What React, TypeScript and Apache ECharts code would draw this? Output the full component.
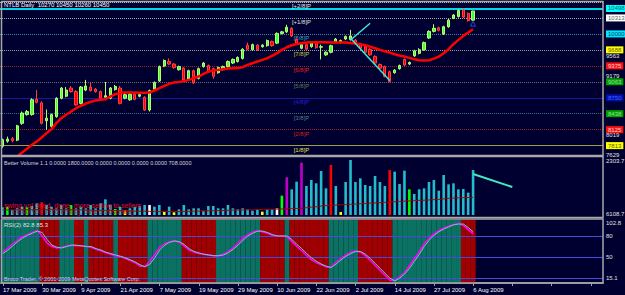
import React, { useEffect, useRef } from 'react';
import * as echarts from 'echarts';

const dates = [
  '17 Mar 2009','18 Mar 2009','19 Mar 2009','23 Mar 2009','24 Mar 2009','25 Mar 2009','26 Mar 2009','27 Mar 2009','30 Mar 2009','31 Mar 2009',
  '1 Apr 2009','2 Apr 2009','3 Apr 2009','6 Apr 2009','7 Apr 2009','8 Apr 2009','9 Apr 2009','10 Apr 2009','13 Apr 2009','14 Apr 2009',
  '15 Apr 2009','16 Apr 2009','17 Apr 2009','20 Apr 2009','21 Apr 2009','22 Apr 2009','23 Apr 2009','24 Apr 2009','27 Apr 2009','28 Apr 2009',
  '30 Apr 2009','1 May 2009','7 May 2009','8 May 2009','11 May 2009','12 May 2009','13 May 2009','14 May 2009','15 May 2009','18 May 2009',
  '19 May 2009','20 May 2009','21 May 2009','22 May 2009','25 May 2009','26 May 2009','27 May 2009','28 May 2009','29 May 2009','1 Jun 2009',
  '2 Jun 2009','3 Jun 2009','4 Jun 2009','5 Jun 2009','8 Jun 2009','9 Jun 2009','10 Jun 2009','11 Jun 2009','12 Jun 2009','15 Jun 2009',
  '16 Jun 2009','17 Jun 2009','18 Jun 2009','19 Jun 2009','22 Jun 2009','23 Jun 2009','24 Jun 2009','25 Jun 2009','26 Jun 2009','29 Jun 2009',
  '30 Jun 2009','1 Jul 2009','2 Jul 2009','3 Jul 2009','6 Jul 2009','7 Jul 2009','8 Jul 2009','9 Jul 2009','10 Jul 2009','13 Jul 2009',
  '14 Jul 2009','15 Jul 2009','16 Jul 2009','17 Jul 2009','21 Jul 2009','22 Jul 2009','23 Jul 2009','24 Jul 2009','27 Jul 2009','28 Jul 2009',
  '29 Jul 2009','30 Jul 2009','31 Jul 2009','3 Aug 2009','4 Aug 2009','5 Aug 2009','6 Aug 2009'
];
const SLOTS = 123;
const categories = dates.concat(new Array(SLOTS - dates.length).fill(''));

const opens = [7800,7900,7950,7920,8250,8420,8420,8720,8650,8300,8190,8380,8740,8780,8940,8870,8640,8900,8960,8920,8870,8760,8740,8910,8940,8740,8710,8820,8780,8760,8510,8920,9080,9370,9460,9410,9300,9330,9100,9280,9130,9360,9380,9320,9240,9300,9360,9430,9460,9520,9780,9690,9780,9750,9770,9850,9820,10010,10040,10110,9890,9720,9790,9750,9820,9740,9590,9640,9850,9830,9900,9890,9880,9790,9750,9700,9560,9400,9360,9260,9240,9320,9500,9410,9570,9620,9690,9920,10050,10120,10000,10140,10310,10340,10470,10400,10270];
const closes = [7930,7940,7910,8200,8450,8480,8710,8660,8250,8350,8420,8740,8940,8900,8870,8610,8960,8980,8890,8870,8740,8790,8940,8970,8640,8810,8820,8720,8810,8510,8890,9050,9360,9480,9410,9340,9360,9100,9280,9040,9320,9430,9260,9170,9340,9360,9460,9500,9540,9700,9700,9790,9690,9780,9870,9770,10010,10040,10130,9960,9820,9790,9700,9830,9730,9750,9640,9770,9900,9870,9950,9960,9820,9720,9640,9590,9430,9330,9170,9070,9290,9380,9390,9440,9670,9690,9830,10050,10110,10070,10140,10270,10370,10460,10330,10260,10450];
const lows = [7770,7870,7880,7900,8220,8400,8400,8640,8230,8120,8140,8360,8720,8760,8850,8590,8620,8880,8870,8850,8720,8740,8720,8890,8620,8720,8690,8700,8760,8490,8480,8900,9060,9350,9390,9320,9280,9080,9080,9020,9110,9340,9240,9120,9220,9280,9340,9410,9440,9500,9680,9670,9670,9730,9750,9750,9800,9990,10020,9940,9800,9700,9680,9730,9710,9500,9570,9620,9830,9810,9880,9870,9800,9700,9620,9570,9410,9310,9150,9050,9220,9300,9370,9390,9550,9600,9670,9900,10030,10050,9980,10120,10290,10320,10310,10240,10260];
const highs = [7950,7990,7980,8220,8480,8510,8740,8900,8680,8520,8440,8760,8960,8960,8980,8900,8980,9100,9050,8940,8890,9060,8960,9000,8980,8840,8850,8850,8830,8780,8910,9070,9380,9500,9520,9430,9380,9350,9300,9300,9340,9450,9400,9340,9360,9380,9480,9520,9560,9720,9830,9810,9800,9800,9890,9870,10030,10060,10180,10130,9910,9810,9810,9850,9840,9790,9660,9790,9920,9890,9970,10080,9900,9810,9770,9720,9580,9420,9380,9280,9310,9400,9520,9460,9690,9720,9850,10070,10190,10140,10160,10290,10390,10480,10490,10420,10450];

const maValues: (number | string)[] = ['-','-','-',7601,7679,7751,7829,7894,7972,8057,8135,8253,8350,8416,8481,8546,8592,8637,8670,8696,8709,8722,8774,8820,8846,8852,8854,8852,8850,8850,8852,8892,8937,8983,9022,9048,9061,9074,9100,9133,9165,9218,9263,9283,9296,9309,9322,9328,9330,9348,9394,9426,9459,9491,9524,9570,9622,9687,9739,9778,9804,9817,9830,9835,9836,9836,9835,9834,9833,9832,9830,9824,9811,9798,9778,9752,9720,9687,9661,9635,9602,9576,9557,9531,9504,9485,9478,9485,9517,9557,9622,9700,9798,9883,9961,10026,10091];

const volumes = [305,331,199,265,331,305,357,463,503,397,331,265,397,265,397,265,331,265,397,265,463,622,397,238,331,199,265,331,357,397,397,331,397,132,331,106,225,397,225,265,265,172,357,357,265,265,397,265,225,265,225,172,225,132,225,225,265,768,1496,1019,1324,2079,1152,1390,1258,1748,1059,1986,1152,119,1311,2185,1311,1456,1192,1152,1549,1311,1152,1787,1721,1231,1761,1019,834,1019,1059,1311,1390,966,1589,1218,1258,1019,1033,887,1787];
const volumeKinds = 'cgcccgccrc ccccgccccc cccgcycccc wccycycccc cccccccccc cccyccwgmc cmcccccrcy cccccccccr cccgcccccc ccccccc'.replace(/ /g, '');
const volumeMA = [200,200,205,205,210,210,210,215,220,220,220,215,215,210,210,205,200,200,195,190,190,185,180,175,170,165,160,155,150,150,145,145,140,140,140,140,140,145,145,150,155,160,165,170,175,180,185,190,195,200,205,210,215,220,225,230,235,240,245,250,258,265,290,310,330,357,370,385,395,405,415,424,435,450,460,470,480,490,503,515,525,540,550,560,570,580,588,596,610,620,640,662,670,680,690,696,702];

const rsiMain = [57,63,69,74,79,82,85,88,80,70,65,63,64,66,67,66,66,65,64,61,59,56,54,52,51,48,45,42,37,37,44,54,64,69,72,73,71,66,60,57,55,54,53,52,52,54,58,63,70,77,82,86,87,86,84,81,80,80,79,72,65,59,52,46,42,39,36,36,43,48,53,57,59,57,52,45,38,31,24,17,17,22,28,38,48,58,69,77,83,88,91,94,96,98,95,89,83];
const rsiSignal = [55,60,66,72,77,81,84,87,85,75,67,64,63,65,67,67,66,65,65,62,60,57,55,53,51,49,46,43,39,36,40,49,60,67,71,73,72,68,62,58,56,54,53,52,52,53,56,61,67,74,80,84,87,87,85,82,80,80,80,75,68,62,55,49,44,40,37,35,40,46,51,55,58,58,54,48,41,34,27,20,16,20,26,34,44,54,65,74,81,86,90,93,96,97,97,92,86];
const rsiZones = 'TTTTTTTTRR RRTTTRRTRR RRRTRRRRRR TTTTTTTRRR RRRRTTTTTT TTTRRRRRTR RRRRRRRTTT TTTRRRRRRR TTTTTTTTTT TTTTRRR'.replace(/ /g, '');

const murreyValues = [10625, 10313, 10000, 9688, 9375, 9063, 8750, 8438, 8125, 7813];
const murreyNames = ['[+2/8]P', '[+1/8]P', '[8/8]P', '[7/8]P', '[6/8]P', '[5/8]P', '[4/8]P', '[3/8]P', '[2/8]P', '[1/8]P'];
const bidPrice = 10498;
const priceTicks = [9563, 9179, 8019, 7629];
const rsiLevels = [80, 50, 20];
const upTrend = [[71, 9880], [75, 10209]];
const downTrend = [[71, 9915], [79, 9087]];
const volTrend = [[96, 1628], [104, 1110]];

const FONT = 'Liberation Sans';
const BG = '#000030';

const murreyLine = ['#b8b8b8', '#a8a8a8', '#2a8fa0', '#9a9a9a', '#a02020', '#6a6a6a', '#1818a0', '#2f6f78', '#a82020', '#a0a040'];
const murreyLineType: any[] = ['dotted', 'dotted', 'dotted', 'dotted', 'dotted', 'dotted', 'solid', 'dotted', 'dotted', 'solid'];
const murreyText = ['#e8e8e8', '#e0e0e0', '#30a8c0', '#c8c840', '#e02020', '#508050', '#2020d0', '#508080', '#d02020', '#e0e040'];
const boxBg = ['', '#ffffff', '#00e8ff', '#ffff00', '#ff1010', '#00a000', '#0010b0', '#00a000', '#ff1010', '#ffff00'];
const boxFg = ['', '#606060', '#004060', '#606000', '#ffd0d0', '#90e090', '#4060ff', '#90e090', '#ffd0d0', '#606000'];

const volColor: Record<string, string> = { c: '#22bccc', r: '#ff0000', m: '#c000c8', g: '#00ff00', y: '#ffff00', w: '#ffffff' };

function buildOption() {
  const mlData: any[] = [];
  murreyValues.forEach((v, i) => {
    mlData.push({
      yAxis: v,
      lineStyle: { color: murreyLine[i], type: murreyLineType[i], width: 1 },
      label: { show: true, position: 'insideMiddleBottom', distance: 1, formatter: murreyNames[i], color: murreyText[i], fontSize: 6, fontFamily: FONT },
    });
    if (boxBg[i]) {
      mlData.push({
        yAxis: v,
        lineStyle: { color: murreyLine[i], type: murreyLineType[i], width: 1 },
        label: { show: true, position: 'end', distance: 3, formatter: String(v), backgroundColor: boxBg[i], color: boxFg[i], fontSize: 6, fontFamily: FONT, padding: [1, 2, 0, 2] },
      });
    }
  });
  mlData.push({
    yAxis: bidPrice,
    lineStyle: { color: '#00d8e8', type: 'solid', width: 2 },
    label: { show: true, position: 'end', distance: 3, formatter: String(bidPrice), backgroundColor: '#00ffff', color: '#006070', fontSize: 6, fontFamily: FONT, padding: [1, 2, 0, 2] },
  });
  priceTicks.forEach((v) => {
    mlData.push({
      yAxis: v,
      lineStyle: { color: 'rgba(0,0,0,0)', width: 0 },
      label: { show: true, position: 'end', distance: 3, formatter: String(v), color: '#e0e0e0', fontSize: 6, fontFamily: FONT },
    });
  });

  const candleData = opens.map((o, i) => [o, closes[i], lows[i], highs[i]]);

  const volData = volumes.map((v, i) => ({ value: v, itemStyle: { color: volColor[volumeKinds[i]] || volColor.c } }));
  const zoneData = rsiZones.split('').map((z) => ({ value: 102.8, itemStyle: { color: z === 'T' ? '#0b7262' : '#a00000' } }));

  const rsiML: any[] = rsiLevels.map((v) => ({
    yAxis: v,
    lineStyle: { color: '#4848e0', type: 'solid', width: 1 },
    label: { show: v !== 20, position: 'end', distance: 3, formatter: String(v), color: '#e0e0e0', fontSize: 6, fontFamily: FONT },
  }));
  rsiML.push({ yAxis: 102.8, lineStyle: { color: 'rgba(0,0,0,0)', width: 0 }, label: { show: true, position: 'end', distance: 3, offset: [0, 3], formatter: '102.8', color: '#e0e0e0', fontSize: 6, fontFamily: FONT } });
  rsiML.push({ yAxis: 20, lineStyle: { color: 'rgba(0,0,0,0)', width: 0 }, label: { show: true, position: 'end', distance: 3, formatter: '15.1', color: '#e0e0e0', fontSize: 6, fontFamily: FONT } });

  const volML: any[] = [
    { yAxis: 2303.7, lineStyle: { color: 'rgba(0,0,0,0)', width: 0 }, label: { show: true, position: 'end', distance: 3, offset: [0, 4], formatter: '2303.7', color: '#e0e0e0', fontSize: 6, fontFamily: FONT } },
    { yAxis: 0, lineStyle: { color: 'rgba(0,0,0,0)', width: 0 }, label: { show: true, position: 'end', distance: 3, offset: [0, -1], formatter: '6108.7', color: '#e0e0e0', fontSize: 6, fontFamily: FONT } },
  ];

  const hiddenX = (gi: number) => ({ type: 'category', gridIndex: gi, data: categories, boundaryGap: true, show: false });

  return {
    animation: false,
    backgroundColor: BG,
    textStyle: { fontFamily: FONT },
    grid: [
      { left: 0, top: 2, width: 603, height: 153 },
      { left: 0, top: 157, width: 603, height: 58 },
      { left: 0, top: 220, width: 603, height: 63 },
    ],
    xAxis: [
      hiddenX(0),
      hiddenX(1),
      {
        type: 'category', gridIndex: 2, data: categories, boundaryGap: true,
        axisLine: { show: true, lineStyle: { color: '#a0a0a0', width: 1.5 } },
        axisTick: { show: true, interval: 7, alignWithLabel: true, length: 3, lineStyle: { color: '#a0a0a0' } },
        axisLabel: { show: true, interval: 7, align: 'left', color: '#ffffff', fontSize: 6, fontFamily: FONT, margin: 4 },
        splitLine: { show: false },
      },
    ],
    yAxis: [
      { type: 'value', gridIndex: 0, min: 7629, max: 10625, show: false, splitLine: { show: false } },
      { type: 'value', gridIndex: 1, min: 0, max: 2303.7, show: false, splitLine: { show: false } },
      { type: 'value', gridIndex: 2, min: 13.1, max: 102.8, show: false, splitLine: { show: false } },
    ],
    graphic: [
      { type: 'rect', shape: { x: 1.5, y: 1.5, width: 601.5, height: 154 }, style: { fill: 'none', stroke: '#a8a8a8', lineWidth: 1.5 }, z: 100, silent: true },
      { type: 'rect', shape: { x: 1.5, y: 156.5, width: 601.5, height: 61 }, style: { fill: 'none', stroke: '#a8a8a8', lineWidth: 1.5 }, z: 100, silent: true },
      { type: 'rect', shape: { x: 1.5, y: 219, width: 601.5, height: 64 }, style: { fill: 'none', stroke: '#a8a8a8', lineWidth: 1.5 }, z: 100, silent: true },
      { type: 'text', left: 4, top: 2, style: { text: 'NTLB Daily  10270 10450 10260 10450', fill: '#ffffff', font: `6px "${FONT}"` }, z: 110 },
      { type: 'text', left: 4, top: 160, style: { text: 'Better Volume 1.1 0.0000 1800.0000 0.0000 0.0000 0.0000 0.0000 708.0000', fill: '#d8d8d8', font: `5.5px "${FONT}"` }, z: 110 },
      { type: 'text', left: 4, top: 202, style: { text: 'swing vol dried, done, more selling to sellers', fill: '#e01010', font: `7px "${FONT}"` }, z: 110 },
      { type: 'text', left: 12, top: 208, style: { text: 'climax vol, trend ending, buyers absorbing', fill: '#a01010', font: `6.5px "${FONT}"` }, z: 110 },
      { type: 'text', left: 4, top: 222, style: { text: 'RSI(2) 82.8 85.3', fill: '#e0e0e0', font: `6px "${FONT}"` }, z: 110 },
      { type: 'text', left: 4, top: 276, style: { text: 'Broco Trader, © 2001-2009 MetaQuotes Software Corp.', fill: '#d0d0d0', font: `5.5px "${FONT}"` }, z: 110 },
    ],
    series: [
      {
        type: 'candlestick', xAxisIndex: 0, yAxisIndex: 0, data: candleData, barWidth: 2.8,
        itemStyle: { color: '#40ff40', color0: '#ff0000', borderColor: '#b8ff70', borderColor0: '#ff4040', borderWidth: 1 },
        markLine: { silent: true, symbol: ['none', 'none'], data: mlData, z: 1 },
        z: 3,
      },
      { type: 'line', xAxisIndex: 0, yAxisIndex: 0, data: maValues, showSymbol: false, lineStyle: { color: '#ff0000', width: 2.5 }, z: 4 },
      { type: 'line', xAxisIndex: 0, yAxisIndex: 0, data: upTrend, showSymbol: false, lineStyle: { color: '#40e8d0', width: 1.5 }, z: 5 },
      { type: 'line', xAxisIndex: 0, yAxisIndex: 0, data: downTrend, showSymbol: false, lineStyle: { color: '#40e8d0', width: 1.5 }, z: 5 },
      { type: 'scatter', xAxisIndex: 0, yAxisIndex: 0, data: [[96, 10200]], symbol: 'triangle', symbolSize: 5, itemStyle: { color: 'rgba(0,0,0,0)', borderColor: '#3050ff', borderWidth: 1 }, z: 6 },
      {
        type: 'bar', xAxisIndex: 1, yAxisIndex: 1, data: volData, barWidth: 2.6,
        markLine: { silent: true, symbol: ['none', 'none'], data: volML },
      },
      { type: 'line', xAxisIndex: 1, yAxisIndex: 1, data: volumeMA, showSymbol: false, lineStyle: { color: '#a00000', width: 1 }, z: 4 },
      { type: 'line', xAxisIndex: 1, yAxisIndex: 1, data: volTrend, showSymbol: false, lineStyle: { color: '#40e8c0', width: 2 }, z: 5 },
      { type: 'bar', xAxisIndex: 2, yAxisIndex: 2, data: zoneData, barWidth: '100%', barCategoryGap: '0%', silent: true, z: 1,
        markLine: { silent: true, symbol: ['none', 'none'], data: rsiML, z: 2 } },
      { type: 'line', xAxisIndex: 2, yAxisIndex: 2, data: rsiMain, showSymbol: false, lineStyle: { color: '#ff00ff', width: 1.5 }, z: 4 },
      { type: 'line', xAxisIndex: 2, yAxisIndex: 2, data: rsiSignal, showSymbol: false, lineStyle: { color: '#70c8c0', width: 1 }, z: 5 },
    ],
  };
}

export default function App() {
  const ref = useRef<HTMLDivElement>(null);
  useEffect(() => {
    const chart = echarts.init(ref.current as HTMLDivElement, undefined, { renderer: 'svg' });
    chart.setOption(buildOption() as any);
    return () => chart.dispose();
  }, []);
  return <div ref={ref} style={{ position: 'fixed', left: 0, top: 0, width: 625, height: 295 }} />;
}
